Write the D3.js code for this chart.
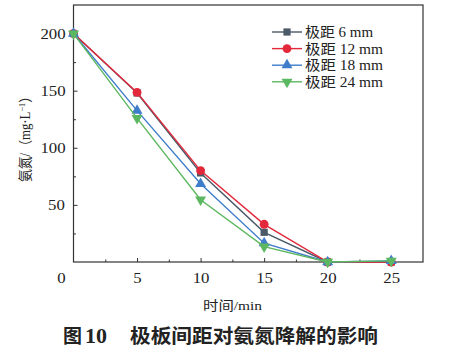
<!DOCTYPE html>
<html><head><meta charset="utf-8">
<script src="https://cdn.jsdelivr.net/npm/d3@7"></script>
<style>
html,body{margin:0;padding:0;background:#fff;}
svg{display:block;}
.sx{transform-box:fill-box;transform-origin:center;transform:scaleX(1.2);}
</style></head>
<body>
<svg id="c" width="456" height="350"></svg>
<script>
const times = [0, 5, 10, 15, 20, 25];
const seriesNames = ["极距 6 mm", "极距 12 mm", "极距 18 mm", "极距 24 mm"];
const s6  = [200, 148, 78, 26, 0, 0];
const s12 = [200, 148.5, 80, 33, 0, 0];
const s18 = [200, 132.5, 68.5, 16.5, 0, 1];
const s24 = [200, 126, 54.5, 13.5, 0, 1];
const xTicks = [5, 10, 15, 20, 25];
const xMinor = [2.5, 7.5, 12.5, 17.5, 22.5];
const yTicks = [50, 100, 150, 200];
const yMinor = [25, 75, 125, 175];
const colors = ["#4b5a68", "#e3283b", "#3f7dcb", "#5cb860"];
const symbols = [d3.symbolSquare, d3.symbolCircle, d3.symbolTriangle, d3.symbolTriangle];

const svg = d3.select("#c");
const L = 73.5, R = 423, T = 5, B = 262;
const x = d3.scaleLinear().domain([0, 27.5]).range([L, R]);
const y = d3.scaleLinear().domain([0, 225]).range([B, T]);
const serif = "'Liberation Serif','Times New Roman','Noto Sans CJK SC',serif";

// frame
svg.append("rect").attr("x", L).attr("y", T).attr("width", R - L).attr("height", B - T)
  .attr("fill", "none").attr("stroke", "#333").attr("stroke-width", 1.2);

// axes
svg.append("g").attr("transform", `translate(0,${B})`)
  .call(d3.axisBottom(x).tickValues(xTicks).tickSize(-4).tickPadding(11).tickFormat(d3.format("d")));
svg.append("g").attr("transform", `translate(0,${B})`)
  .call(d3.axisBottom(x).tickValues(xMinor).tickSize(-2.5).tickFormat(""));
svg.append("g").attr("transform", `translate(${L},0)`)
  .call(d3.axisLeft(y).tickValues(yTicks).tickSize(-4).tickPadding(10).tickFormat(d3.format("d")));
svg.append("g").attr("transform", `translate(${L},0)`)
  .call(d3.axisLeft(y).tickValues(yMinor).tickSize(-2.5).tickFormat(""));
svg.selectAll(".domain").remove();
svg.selectAll(".tick line").attr("stroke", "#333").attr("stroke-width", 1);
svg.selectAll(".tick text").attr("font-family", serif).attr("font-size", 14)
  .attr("fill", "#222").classed("sx", true);
// origin label
svg.append("text").attr("x", x(0) - 12).attr("y", 283).attr("text-anchor", "middle")
  .attr("font-family", serif).attr("font-size", 14).attr("fill", "#222").classed("sx", true).text("0");

// series
const all = [s6, s12, s18, s24];
const line = d3.line().x((d, i) => x(times[i])).y(d => y(d));
all.forEach((vals, k) => {
  svg.append("path").datum(vals).attr("d", line).attr("fill", "none")
    .attr("stroke", colors[k]).attr("stroke-width", 1.4);
  const sym = d3.symbol().type(symbols[k]).size(k === 1 ? 62 : 52);
  svg.append("g").selectAll("path").data(vals).join("path")
    .attr("d", sym)
    .attr("transform", (d, i) => `translate(${x(times[i])},${y(d)})` + (k === 3 ? " rotate(180)" : ""))
    .attr("fill", colors[k]);
});

// legend
const lg = svg.append("g");
seriesNames.forEach((name, k) => {
  const yy = 32 + k * 16.6;
  lg.append("line").attr("x1", 272).attr("x2", 302).attr("y1", yy).attr("y2", yy)
    .attr("stroke", colors[k]).attr("stroke-width", 1.4);
  lg.append("path").attr("d", d3.symbol().type(symbols[k]).size(k === 1 ? 62 : 52)())
    .attr("transform", `translate(287,${yy})` + (k === 3 ? " rotate(180)" : ""))
    .attr("fill", colors[k]);
  lg.append("text").attr("x", 305).attr("y", yy + 5).attr("font-family", serif)
    .attr("font-size", 14).attr("fill", "#222")
    .attr("textLength", k === 0 ? 68 : 78).attr("lengthAdjust", "spacingAndGlyphs").text(name);
});

// axis titles
svg.append("text").attr("x", 203).attr("y", 309.5).attr("font-family", serif)
  .attr("font-size", 13).attr("fill", "#222")
  .attr("textLength", 59).attr("lengthAdjust", "spacingAndGlyphs").text("时间/min");
const yl = svg.append("text").attr("transform", "translate(30,182) rotate(-90)")
  .attr("font-family", serif).attr("font-size", 14).attr("fill", "#222")
  .attr("textLength", 92).attr("lengthAdjust", "spacingAndGlyphs");
yl.append("tspan").text("氨氮/（mg·L");
yl.append("tspan").attr("font-size", 9).attr("dy", -5).text("−1");
yl.append("tspan").attr("dy", 5).text("）");

// figure caption
svg.append("text").attr("x", 63).attr("y", 343).attr("font-family", "'Noto Sans CJK SC',sans-serif")
  .attr("font-size", 19).attr("font-weight", "bold").attr("fill", "#222").text("图");
svg.append("text").attr("x", 85).attr("y", 343).attr("font-family", serif)
  .attr("font-size", 20).attr("font-weight", "bold").attr("fill", "#222")
  .attr("textLength", 22).attr("lengthAdjust", "spacingAndGlyphs").text("10");
svg.append("text").attr("x", 130).attr("y", 343).attr("font-family", "'Noto Sans CJK SC',sans-serif")
  .attr("font-size", 19).attr("font-weight", "bold").attr("fill", "#222")
  .attr("textLength", 248).attr("lengthAdjust", "spacingAndGlyphs").text("极板间距对氨氮降解的影响");
</script>
</body></html>
